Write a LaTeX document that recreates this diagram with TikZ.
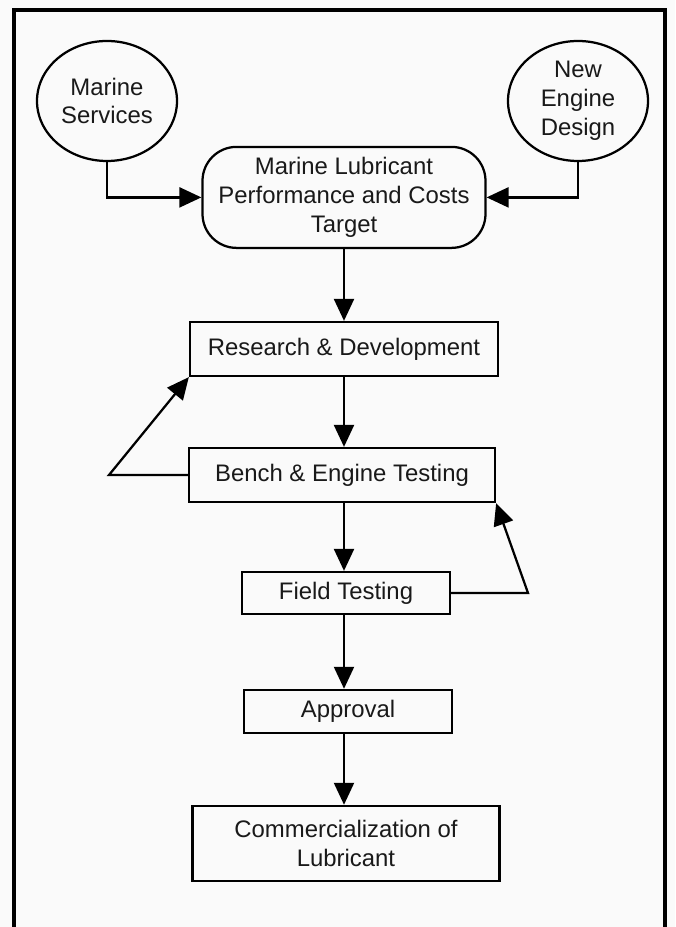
\documentclass[tikz,border=0pt]{standalone}
\usepackage{fontspec}
\setmainfont{Liberation Sans}
\usetikzlibrary{arrows.meta,shapes.geometric}

\begin{document}
\begin{tikzpicture}[
  every node/.style={font=\fontsize{17}{20.5}\selectfont, text=black!90},
  box/.style={draw, line width=1.6pt, align=center, inner sep=0pt},
  oval/.style={draw, ellipse, line width=1.6pt, align=center, minimum width=3.5cm, minimum height=3cm, inner sep=0pt},
  arr/.style={-{Triangle[length=5.5mm,width=5mm]}, line width=1.6pt}
]
\useasboundingbox (0,0) rectangle (16.875,23.175);
\fill[black!2] (0,0) rectangle (16.875,23.175);
% outer frame, bottom edge cut off
\draw[line width=2.8pt] (0.35,-0.5) -- (0.35,22.925) -- (16.625,22.925) -- (16.625,-0.5);

\node[oval] (ms) at (2.675,20.65) {Marine\\Services};
\node[oval] (ned) at (14.45,20.65) {New\\Engine\\Design};
\node[box, rounded corners=8.5mm, minimum width=7.075cm, minimum height=2.525cm] (tgt) at (8.6,18.24) {Marine Lubricant\\Performance and Costs\\Target};
\node[box, minimum width=7.7cm, minimum height=1.35cm] (rd) at (8.6,14.45) {Research \& Development};
\node[box, minimum width=7.65cm, minimum height=1.35cm] (bench) at (8.55,11.3) {Bench \& Engine Testing};
\node[box, minimum width=5.2cm, minimum height=1.05cm] (field) at (8.65,8.35) {Field Testing};
\node[box, minimum width=5.2cm, minimum height=1.075cm] (appr) at (8.7,5.39) {Approval};
\node[box, minimum width=7.675cm, minimum height=1.875cm] (comm) at (8.65,2.09) {Commercialization of\\Lubricant};

\coordinate (fbl) at (2.725,11.3);
\coordinate (fbr) at (13.2,8.35);

\draw[arr] (ms.south) |- (tgt.west);
\draw[arr] (ned.south) |- (tgt.east);
\draw[arr] (tgt.south) -- (tgt.south |- rd.north);
\draw[arr] (rd.south) -- (rd.south |- bench.north);
\draw[arr] (bench.south -| rd.south) -- (rd.south |- field.north);
\draw[arr] (field.south -| rd.south) -- (rd.south |- appr.north);
\draw[arr] (appr.south -| rd.south) -- (rd.south |- comm.north);
% feedback loops
\draw[arr] (bench.west) -- (fbl) -- (rd.south west);
\draw[arr] (field.east) -- (fbr) -- (bench.south east);
\end{tikzpicture}
\end{document}
